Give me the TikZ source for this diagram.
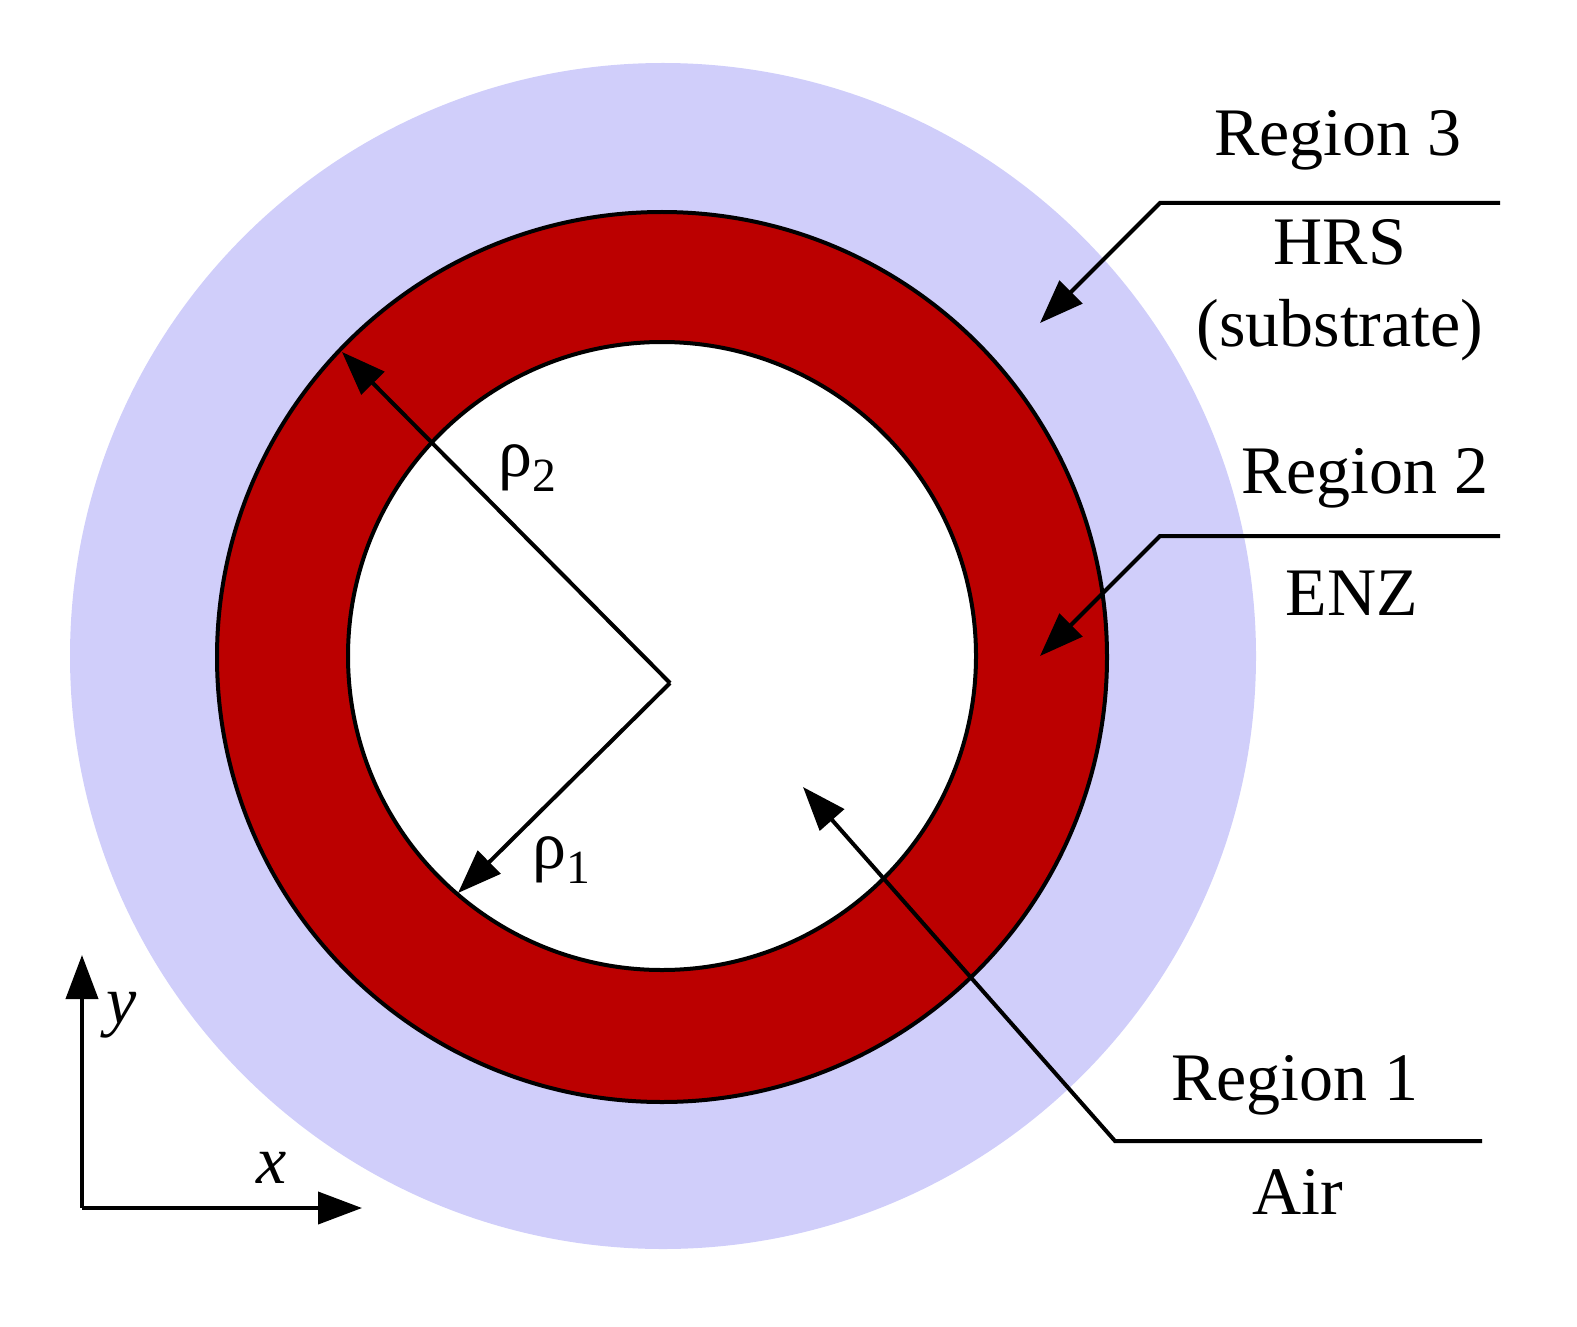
\documentclass[tikz,border=0pt]{standalone}
\usepackage{fontspec}
\setmainfont{Liberation Serif}
\usetikzlibrary{arrows.meta}
\definecolor{hrs}{RGB}{208,206,250}
\definecolor{enz}{RGB}{187,0,0}
\begin{document}
\begin{tikzpicture}[x=0.5pt,y=-0.5pt,
  lbl/.style={font=\fontsize{34}{40}\selectfont,inner sep=0pt},
  ln/.style={line width=2pt},
  arr/.style={ln,-{Triangle[length=22pt,width=16pt]}}]
\useasboundingbox (0,0) rectangle (1577,1326);
\node[circle,fill=hrs,inner sep=0pt,minimum size=593pt] (c3) at (663,656) {};
\node[circle,fill=enz,draw=black,line width=2pt,inner sep=0pt,minimum size=445pt] (c2) at (662,657) {};
\node[circle,fill=white,draw=black,line width=2pt,inner sep=0pt,minimum size=314pt] (c1) at (662,656) {};
\coordinate (o) at (670,683);
\coordinate (p2) at (342,352);
\coordinate (p1) at (458,893);
\draw[arr] (o) -- (p2);
\draw[arr] (o) -- (p1);
\node[lbl] (r2) at (528,468) {ρ\textsubscript{2}};
\node[lbl] (r1) at (562,860) {ρ\textsubscript{1}};
% leaders
\coordinate (a3) at (1500,203); \coordinate (b3) at (1160,203); \coordinate (t3) at (1040,323);
\coordinate (a2) at (1500,536); \coordinate (b2) at (1160,536); \coordinate (t2) at (1040,656);
\coordinate (a1) at (1482,1141); \coordinate (b1) at (1115,1141); \coordinate (t1) at (803,787);
\draw[arr] (a3) -- (b3) -- (t3);
\draw[arr] (a2) -- (b2) -- (t2);
\draw[arr] (a1) -- (b1) -- (t1);
\node[lbl] (R3) at (1338,140) {Region 3};
\node[lbl] (H) at (1340,242) {HRS};
\node[lbl] (S) at (1340,330) {(substrate)};
\node[lbl] (R2) at (1365,478) {Region 2};
\node[lbl] (E) at (1352,593) {ENZ};
\node[lbl] (R1) at (1295,1085) {Region 1};
\node[lbl] (A) at (1298,1192) {Air};
% axes
\coordinate (ax) at (82,1208);
\coordinate (ay) at (82,955);
\coordinate (axx) at (362,1208);
\draw[arr] (ax) -- (ay);
\draw[arr] (ax) -- (axx);
\node[lbl] (yl) at (122,1015) {\textit{y}};
\node[lbl] (xl) at (272,1168) {\textit{x}};
\end{tikzpicture}
\end{document}
